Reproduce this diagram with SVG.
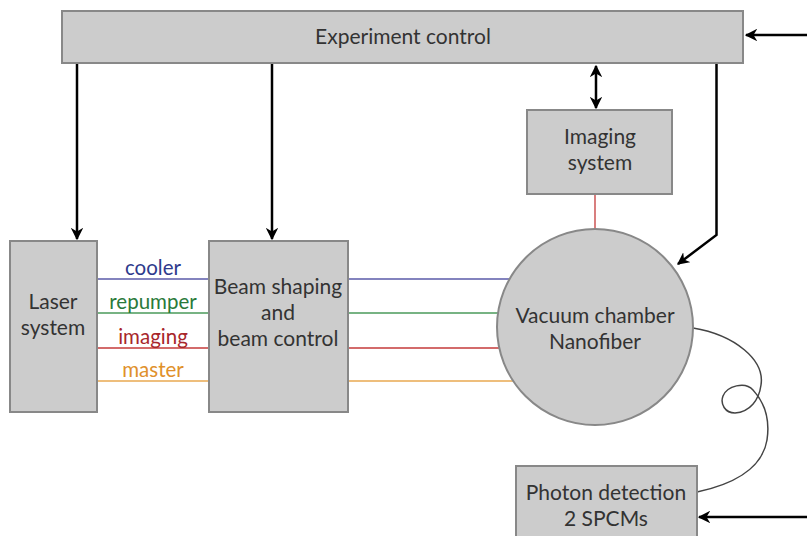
<svg xmlns="http://www.w3.org/2000/svg" width="807" height="536" viewBox="0 0 807 536">
<style>
.box{fill:#cccccc;stroke:#888888;stroke-width:2}
.t{font-family:"Lato","Liberation Sans",sans-serif;font-size:21px;fill:#333333;text-anchor:middle}
.lbl{font-family:"Lato","Liberation Sans",sans-serif;font-size:20.5px;text-anchor:middle}
.arr{fill:none;stroke:#000;stroke-width:2.5}
.beam{fill:none;stroke-width:1.3}
</style>
<defs>
<marker id="ah" viewBox="0 0 10 10" refX="9" refY="5" markerWidth="5" markerHeight="5" orient="auto-start-reverse" markerUnits="strokeWidth">
<path d="M0,0 L10,5 L0,10 L3,5 Z" fill="#000"/>
</marker>
</defs>
<rect width="807" height="536" fill="#ffffff"/>
<g id="connectors">
<line class="beam" x1="97" y1="279" x2="209" y2="279" stroke="#5a5aa8"/>
<line class="beam" x1="97" y1="313" x2="209" y2="313" stroke="#4a9a5a"/>
<line class="beam" x1="97" y1="348" x2="209" y2="348" stroke="#c43a3a"/>
<line class="beam" x1="97" y1="381" x2="209" y2="381" stroke="#e8a850"/>
<line class="beam" x1="348" y1="279" x2="510" y2="279" stroke="#5a5aa8"/>
<line class="beam" x1="348" y1="313" x2="498" y2="313" stroke="#4a9a5a"/>
<line class="beam" x1="348" y1="348" x2="499" y2="348" stroke="#c43a3a"/>
<line class="beam" x1="348" y1="381" x2="513" y2="381" stroke="#e8a850"/>
<line class="beam" x1="595" y1="194" x2="595" y2="229" stroke="#c43a3a"/>
<path class="arr" d="M77,64 V239" marker-end="url(#ah)"/>
<path class="arr" d="M272,64 V239" marker-end="url(#ah)"/>
<path class="arr" d="M596,66 V108" marker-start="url(#ah)" marker-end="url(#ah)"/>
<path class="arr" d="M716.5,64 V235 L678,264" marker-end="url(#ah)"/>
<path class="arr" d="M807,35 H746" marker-end="url(#ah)"/>
<path class="arr" d="M807,517 H699" marker-end="url(#ah)"/>
<path fill="none" stroke="#444" stroke-width="1.5" d="M693,328 C735,335 765,360 761,385 C759,400 750,412 735,413 C725,413 720,404 723,396 C727,386 745,381 753,390 C765,403 770,420 767,440 C762,470 730,485 697,492"/>
</g>
<g id="experiment-control">
<rect class="box" x="62" y="11" width="681" height="52"/>
<text class="t" x="403" y="44">Experiment control</text>
</g>
<g id="laser-system">
<rect class="box" x="10" y="241" width="87" height="171"/>
<text class="t" x="53" y="309">Laser</text>
<text class="t" x="53" y="335">system</text>
</g>
<g id="beam-shaping">
<rect class="box" x="209" y="241" width="139" height="171"/>
<text class="t" x="278" y="294">Beam shaping</text>
<text class="t" x="278" y="320">and</text>
<text class="t" x="278" y="346">beam control</text>
</g>
<g id="imaging-system">
<rect class="box" x="527" y="110" width="145" height="84"/>
<text class="t" x="600" y="144">Imaging</text>
<text class="t" x="600" y="170">system</text>
</g>
<g id="vacuum-chamber">
<circle class="box" cx="595" cy="327" r="98"/>
<text class="t" x="595" y="323">Vacuum chamber</text>
<text class="t" x="595" y="349">Nanofiber</text>
</g>
<g id="photon-detection">
<rect class="box" x="516" y="466" width="181" height="80"/>
<text class="t" x="606" y="500">Photon detection</text>
<text class="t" x="606" y="526">2 SPCMs</text>
</g>
<g id="labels">
<text class="lbl" x="153" y="275" fill="#2e3a8c">cooler</text>
<text class="lbl" x="153" y="309" fill="#2a7a3a">repumper</text>
<text class="lbl" x="153" y="344" fill="#a8262b">imaging</text>
<text class="lbl" x="153" y="377" fill="#e0902a">master</text>
</g>
</svg>
